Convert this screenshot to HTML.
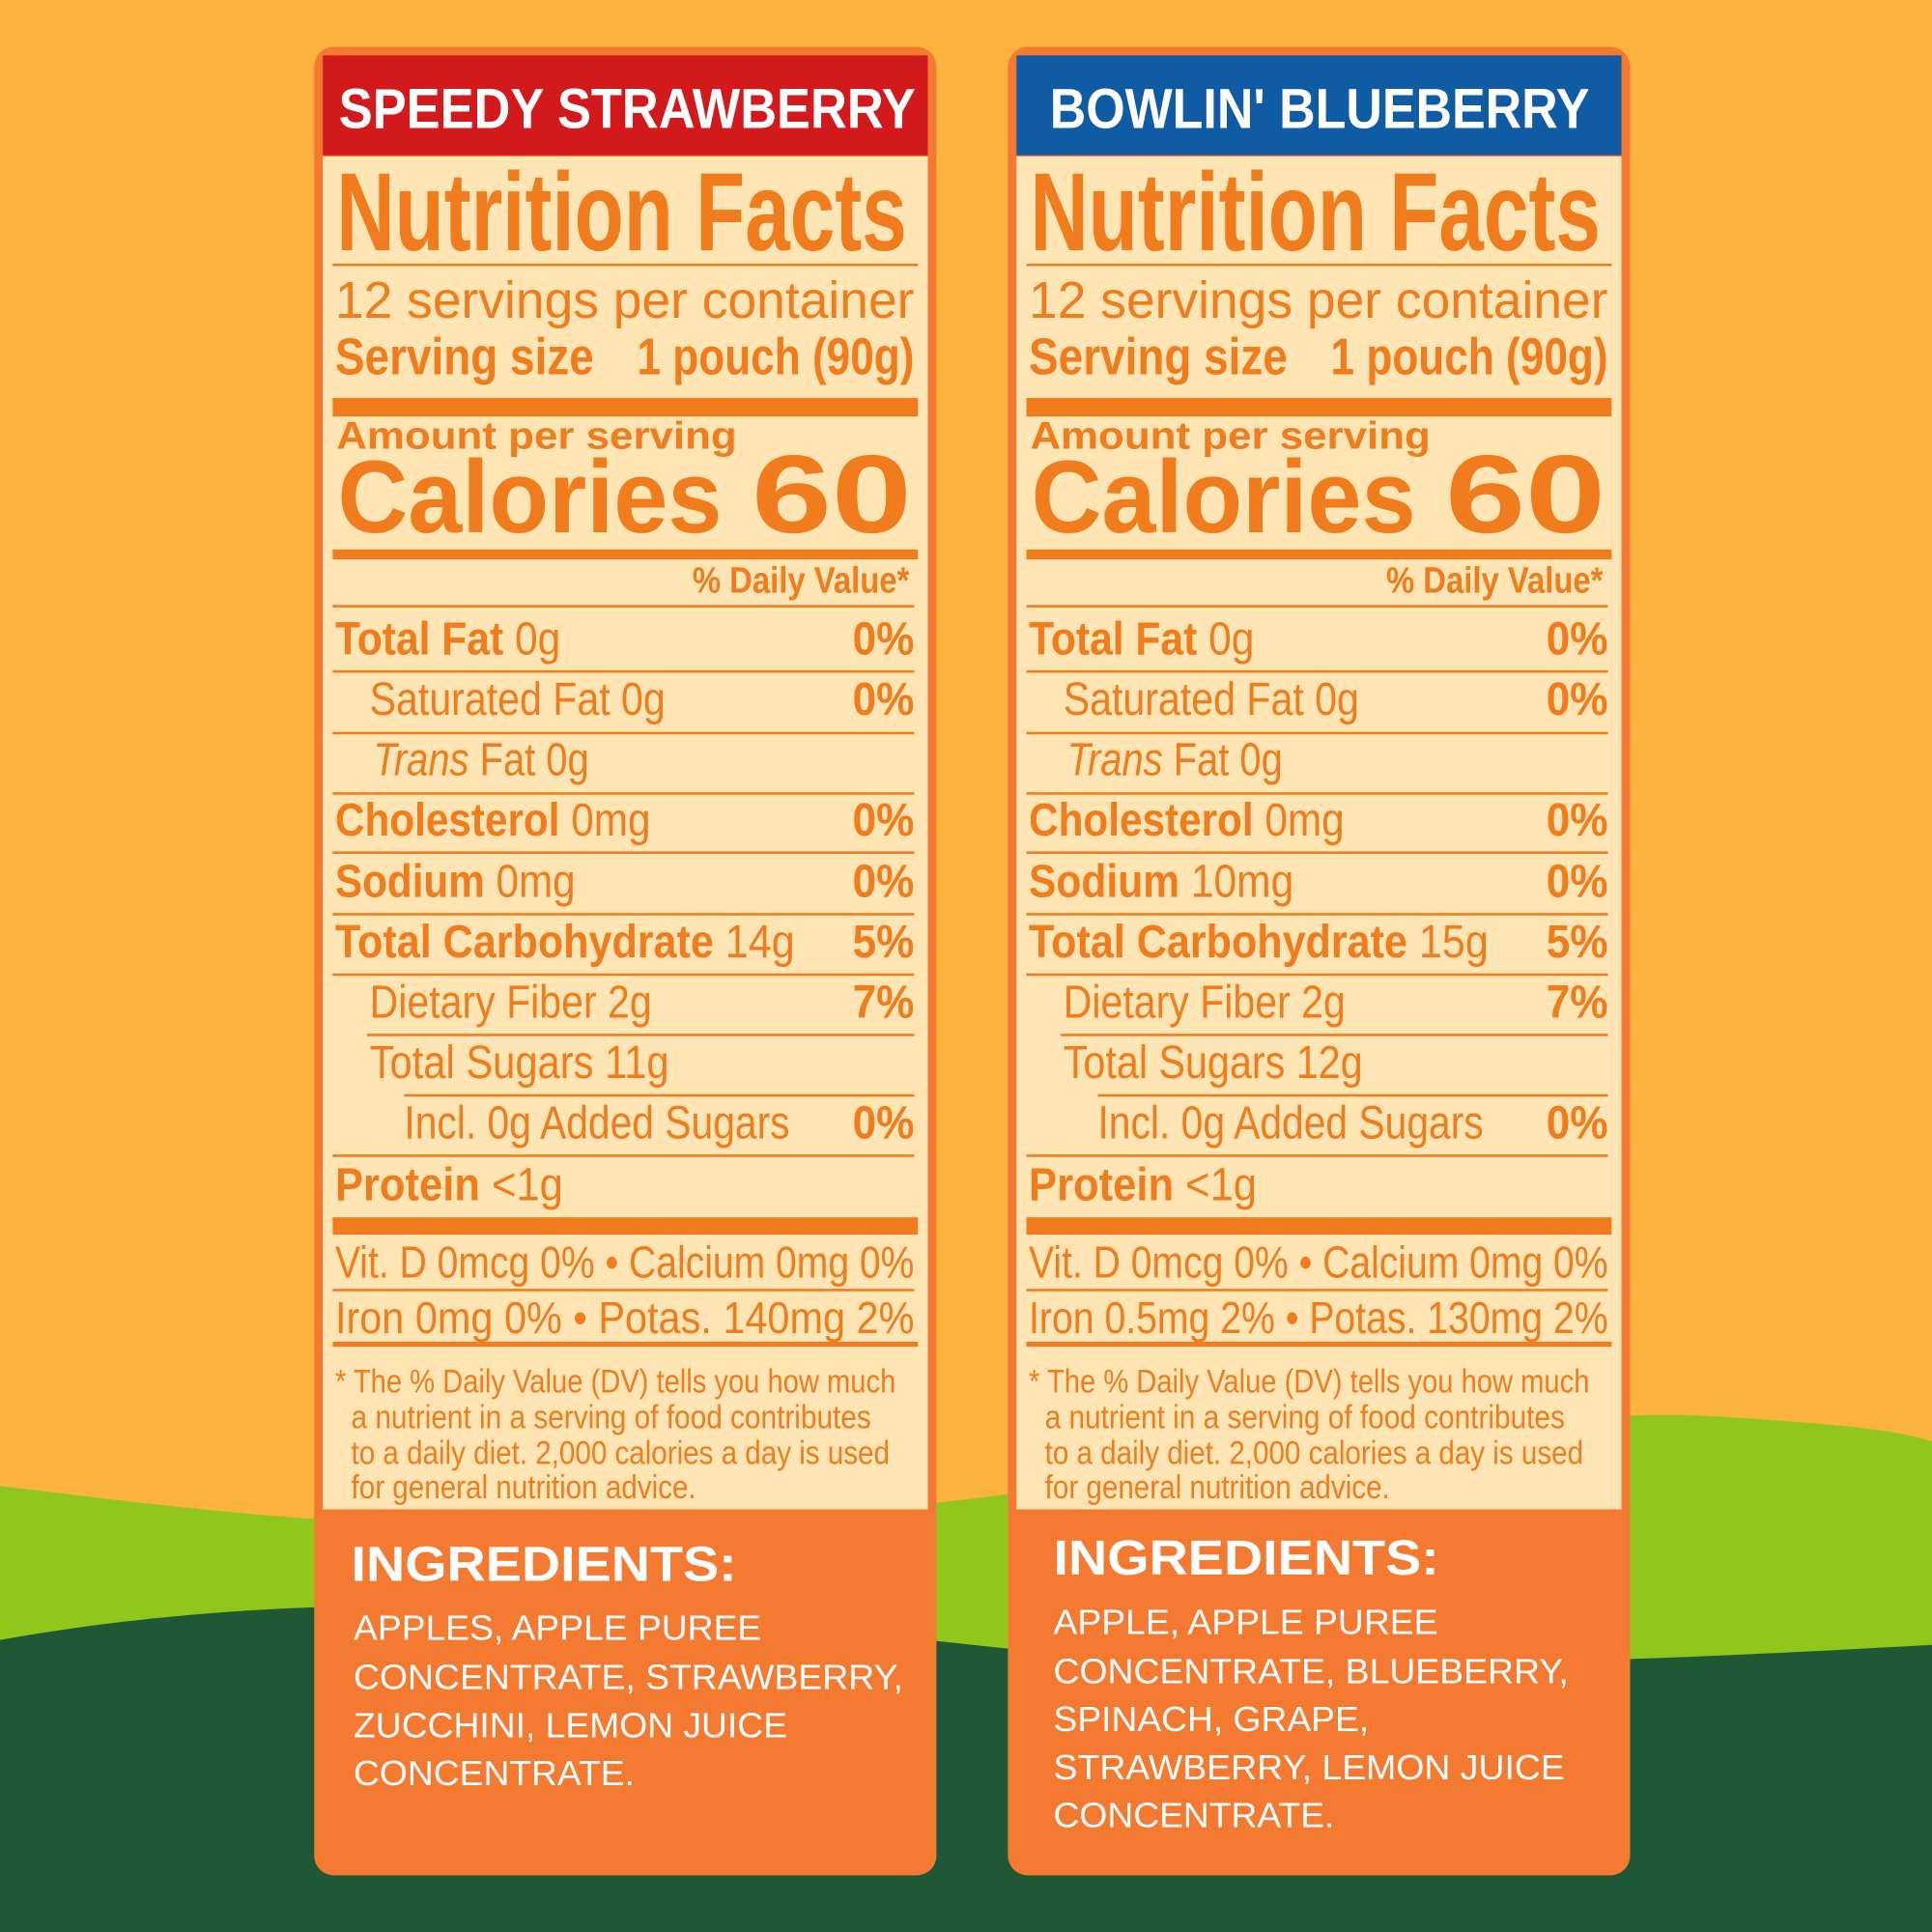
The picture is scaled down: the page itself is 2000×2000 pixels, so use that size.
<!DOCTYPE html>
<html><head><meta charset="utf-8"><style>
html,body{margin:0;padding:0;width:2000px;height:2000px;overflow:hidden;background:#FCB33E}
svg{display:block}
.n{font-family:"Liberation Sans Narrow","Liberation Sans",sans-serif}
.w{font-family:"Liberation Sans",sans-serif}
</style></head><body>
<svg width="2000" height="2000" viewBox="0 0 1568 1568" xmlns="http://www.w3.org/2000/svg">
<rect width="1568" height="1568" fill="#FCB33E"/>
<path d="M0,1206 C200,1230 420,1262 800,1215 C1050,1180 1250,1140 1400,1150 C1480,1155 1540,1160 1568,1170 L1568,1568 L0,1568 Z" fill="#91C71B"/>
<path d="M0,1331 C120,1310 250,1298 450,1305 C650,1315 760,1335 900,1345 C1100,1355 1300,1350 1568,1335 L1568,1568 L0,1568 Z" fill="#1F5834"/>

<g fill="#F07C1E">
<rect x="255" y="38" width="505" height="1484" rx="16" fill="#F47A32"/>
<rect x="262" y="45" width="491" height="81" fill="#D2191C"/>
<rect x="262" y="127" width="491" height="1098" fill="#FFE4B4"/>
<text x="275" y="104" class="w" font-size="46" font-weight="bold" fill="#fff" textLength="468" lengthAdjust="spacingAndGlyphs">SPEEDY STRAWBERRY</text>
<text x="273" y="203" class="n" font-size="90" font-weight="bold" textLength="463" lengthAdjust="spacingAndGlyphs">Nutrition Facts</text>
<rect x="270" y="214" width="475" height="2"/>
<text x="272" y="258" class="n" font-size="42" textLength="470" lengthAdjust="spacingAndGlyphs">12 servings per container</text>
<text x="272" y="304" class="n" font-size="42" font-weight="bold" textLength="210" lengthAdjust="spacingAndGlyphs">Serving size</text>
<text x="517" y="304" class="n" font-size="42" font-weight="bold" textLength="225" lengthAdjust="spacingAndGlyphs">1 pouch (90g)</text>
<rect x="270" y="323" width="475" height="15"/>
<text x="273" y="364" class="w" font-size="31" font-weight="bold" textLength="325" lengthAdjust="spacingAndGlyphs">Amount per serving</text>
<text x="274" y="432" class="w" font-size="84" font-weight="bold" textLength="312" lengthAdjust="spacingAndGlyphs">Calories</text>
<text x="610" y="432" class="w" font-size="90" font-weight="bold" textLength="130" lengthAdjust="spacingAndGlyphs">60</text>
<rect x="270" y="446" width="475" height="8"/>
<text x="562" y="481" class="n" font-size="30" font-weight="bold" textLength="176" lengthAdjust="spacingAndGlyphs">% Daily Value*</text>
<rect x="270" y="491" width="472" height="2"/>
<g class="n" font-size="38" lengthAdjust="spacingAndGlyphs">
<text x="272" y="531" textLength="183" lengthAdjust="spacingAndGlyphs"><tspan font-weight="bold">Total Fat</tspan> 0g</text>
<text x="692" y="531" textLength="50" lengthAdjust="spacingAndGlyphs" font-weight="bold">0%</text>
<rect x="270" y="544" width="472" height="2"/>
<text x="300" y="580" textLength="240" lengthAdjust="spacingAndGlyphs">Saturated Fat 0g</text>
<text x="692" y="580" textLength="50" lengthAdjust="spacingAndGlyphs" font-weight="bold">0%</text>
<rect x="270" y="594" width="472" height="2"/>
<text x="303" y="629" textLength="175" lengthAdjust="spacingAndGlyphs"><tspan font-style="italic">Trans</tspan> Fat 0g</text>
<rect x="270" y="643" width="472" height="2"/>
<text x="272" y="678" textLength="256" lengthAdjust="spacingAndGlyphs"><tspan font-weight="bold">Cholesterol</tspan> 0mg</text>
<text x="692" y="678" textLength="50" lengthAdjust="spacingAndGlyphs" font-weight="bold">0%</text>
<rect x="270" y="691" width="472" height="2"/>
<text x="272" y="728" textLength="195" lengthAdjust="spacingAndGlyphs"><tspan font-weight="bold">Sodium</tspan> 0mg</text>
<text x="692" y="728" textLength="50" lengthAdjust="spacingAndGlyphs" font-weight="bold">0%</text>
<rect x="270" y="741" width="472" height="2"/>
<text x="272" y="777" textLength="373" lengthAdjust="spacingAndGlyphs"><tspan font-weight="bold">Total Carbohydrate</tspan> 14g</text>
<text x="692" y="777" textLength="50" lengthAdjust="spacingAndGlyphs" font-weight="bold">5%</text>
<rect x="270" y="790" width="472" height="2"/>
<text x="300" y="826" textLength="229" lengthAdjust="spacingAndGlyphs">Dietary Fiber 2g</text>
<text x="692" y="826" textLength="50" lengthAdjust="spacingAndGlyphs" font-weight="bold">7%</text>
<rect x="298" y="839" width="444" height="2"/>
<text x="300" y="875" textLength="243" lengthAdjust="spacingAndGlyphs">Total Sugars 11g</text>
<rect x="328" y="888" width="414" height="2"/>
<text x="328" y="924" textLength="313" lengthAdjust="spacingAndGlyphs">Incl. 0g Added Sugars</text>
<text x="692" y="924" textLength="50" lengthAdjust="spacingAndGlyphs" font-weight="bold">0%</text>
<rect x="270" y="937" width="472" height="2"/>
<text x="272" y="974" textLength="185" lengthAdjust="spacingAndGlyphs"><tspan font-weight="bold">Protein</tspan> &lt;1g</text>
</g>
<rect x="270" y="988" width="475" height="14"/>
<text x="272" y="1037" class="n" font-size="36" textLength="470" lengthAdjust="spacingAndGlyphs">Vit. D 0mcg 0%  •  Calcium 0mg 0%</text>
<rect x="270" y="1046" width="472" height="2"/>
<text x="272" y="1082" class="n" font-size="36" textLength="470" lengthAdjust="spacingAndGlyphs">Iron 0mg 0%   •   Potas. 140mg 2%</text>
<rect x="270" y="1089" width="475" height="4"/>
<g class="n" font-size="27">
<text x="272" y="1130" textLength="455" lengthAdjust="spacingAndGlyphs">* The % Daily Value (DV) tells you how much</text>
<text x="285" y="1159" textLength="422" lengthAdjust="spacingAndGlyphs">a nutrient in a serving of food contributes</text>
<text x="285" y="1188" textLength="437" lengthAdjust="spacingAndGlyphs">to a daily diet. 2,000 calories a day is used</text>
<text x="285" y="1216" textLength="280" lengthAdjust="spacingAndGlyphs">for general nutrition advice.</text>
</g>
<g fill="#fff">
<text x="285" y="1283" class="w" font-size="40" font-weight="bold" textLength="313" lengthAdjust="spacingAndGlyphs">INGREDIENTS:</text>
<g class="w" font-size="28">
<text x="287" y="1331" textLength="331" lengthAdjust="spacingAndGlyphs">APPLES, APPLE PUREE</text>
<text x="287" y="1371" textLength="446" lengthAdjust="spacingAndGlyphs">CONCENTRATE, STRAWBERRY,</text>
<text x="287" y="1410" textLength="352" lengthAdjust="spacingAndGlyphs">ZUCCHINI, LEMON JUICE</text>
<text x="287" y="1449" textLength="228" lengthAdjust="spacingAndGlyphs">CONCENTRATE.</text>
</g></g>
</g>

<g transform="translate(563,0)" fill="#F07C1E">
<rect x="255" y="38" width="505" height="1484" rx="16" fill="#F47A32"/>
<rect x="262" y="45" width="491" height="81" fill="#0F5CA4"/>
<rect x="262" y="127" width="491" height="1098" fill="#FFE4B4"/>
<text x="289" y="104" class="w" font-size="46" font-weight="bold" fill="#fff" textLength="438" lengthAdjust="spacingAndGlyphs">BOWLIN' BLUEBERRY</text>
<text x="273" y="203" class="n" font-size="90" font-weight="bold" textLength="463" lengthAdjust="spacingAndGlyphs">Nutrition Facts</text>
<rect x="270" y="214" width="475" height="2"/>
<text x="272" y="258" class="n" font-size="42" textLength="470" lengthAdjust="spacingAndGlyphs">12 servings per container</text>
<text x="272" y="304" class="n" font-size="42" font-weight="bold" textLength="210" lengthAdjust="spacingAndGlyphs">Serving size</text>
<text x="517" y="304" class="n" font-size="42" font-weight="bold" textLength="225" lengthAdjust="spacingAndGlyphs">1 pouch (90g)</text>
<rect x="270" y="323" width="475" height="15"/>
<text x="273" y="364" class="w" font-size="31" font-weight="bold" textLength="325" lengthAdjust="spacingAndGlyphs">Amount per serving</text>
<text x="274" y="432" class="w" font-size="84" font-weight="bold" textLength="312" lengthAdjust="spacingAndGlyphs">Calories</text>
<text x="610" y="432" class="w" font-size="90" font-weight="bold" textLength="130" lengthAdjust="spacingAndGlyphs">60</text>
<rect x="270" y="446" width="475" height="8"/>
<text x="562" y="481" class="n" font-size="30" font-weight="bold" textLength="176" lengthAdjust="spacingAndGlyphs">% Daily Value*</text>
<rect x="270" y="491" width="472" height="2"/>
<g class="n" font-size="38">
<text x="272" y="531" textLength="183" lengthAdjust="spacingAndGlyphs"><tspan font-weight="bold">Total Fat</tspan> 0g</text>
<text x="692" y="531" textLength="50" lengthAdjust="spacingAndGlyphs" font-weight="bold">0%</text>
<rect x="270" y="544" width="472" height="2"/>
<text x="300" y="580" textLength="240" lengthAdjust="spacingAndGlyphs">Saturated Fat 0g</text>
<text x="692" y="580" textLength="50" lengthAdjust="spacingAndGlyphs" font-weight="bold">0%</text>
<rect x="270" y="594" width="472" height="2"/>
<text x="303" y="629" textLength="175" lengthAdjust="spacingAndGlyphs"><tspan font-style="italic">Trans</tspan> Fat 0g</text>
<rect x="270" y="643" width="472" height="2"/>
<text x="272" y="678" textLength="256" lengthAdjust="spacingAndGlyphs"><tspan font-weight="bold">Cholesterol</tspan> 0mg</text>
<text x="692" y="678" textLength="50" lengthAdjust="spacingAndGlyphs" font-weight="bold">0%</text>
<rect x="270" y="691" width="472" height="2"/>
<text x="272" y="728" textLength="215" lengthAdjust="spacingAndGlyphs"><tspan font-weight="bold">Sodium</tspan> 10mg</text>
<text x="692" y="728" textLength="50" lengthAdjust="spacingAndGlyphs" font-weight="bold">0%</text>
<rect x="270" y="741" width="472" height="2"/>
<text x="272" y="777" textLength="373" lengthAdjust="spacingAndGlyphs"><tspan font-weight="bold">Total Carbohydrate</tspan> 15g</text>
<text x="692" y="777" textLength="50" lengthAdjust="spacingAndGlyphs" font-weight="bold">5%</text>
<rect x="270" y="790" width="472" height="2"/>
<text x="300" y="826" textLength="229" lengthAdjust="spacingAndGlyphs">Dietary Fiber 2g</text>
<text x="692" y="826" textLength="50" lengthAdjust="spacingAndGlyphs" font-weight="bold">7%</text>
<rect x="298" y="839" width="444" height="2"/>
<text x="300" y="875" textLength="243" lengthAdjust="spacingAndGlyphs">Total Sugars 12g</text>
<rect x="328" y="888" width="414" height="2"/>
<text x="328" y="924" textLength="313" lengthAdjust="spacingAndGlyphs">Incl. 0g Added Sugars</text>
<text x="692" y="924" textLength="50" lengthAdjust="spacingAndGlyphs" font-weight="bold">0%</text>
<rect x="270" y="937" width="472" height="2"/>
<text x="272" y="974" textLength="185" lengthAdjust="spacingAndGlyphs"><tspan font-weight="bold">Protein</tspan> &lt;1g</text>
</g>
<rect x="270" y="988" width="475" height="14"/>
<text x="272" y="1037" class="n" font-size="36" textLength="470" lengthAdjust="spacingAndGlyphs">Vit. D 0mcg 0%  •  Calcium 0mg 0%</text>
<rect x="270" y="1046" width="472" height="2"/>
<text x="272" y="1082" class="n" font-size="36" textLength="470" lengthAdjust="spacingAndGlyphs">Iron 0.5mg 2%  •  Potas. 130mg 2%</text>
<rect x="270" y="1089" width="475" height="4"/>
<g class="n" font-size="27">
<text x="272" y="1130" textLength="455" lengthAdjust="spacingAndGlyphs">* The % Daily Value (DV) tells you how much</text>
<text x="285" y="1159" textLength="422" lengthAdjust="spacingAndGlyphs">a nutrient in a serving of food contributes</text>
<text x="285" y="1188" textLength="437" lengthAdjust="spacingAndGlyphs">to a daily diet. 2,000 calories a day is used</text>
<text x="285" y="1216" textLength="280" lengthAdjust="spacingAndGlyphs">for general nutrition advice.</text>
</g>
<g fill="#fff">
<text x="292" y="1278" class="w" font-size="40" font-weight="bold" textLength="313" lengthAdjust="spacingAndGlyphs">INGREDIENTS:</text>
<g class="w" font-size="28">
<text x="292" y="1326" textLength="312" lengthAdjust="spacingAndGlyphs">APPLE, APPLE PUREE</text>
<text x="292" y="1366" textLength="418" lengthAdjust="spacingAndGlyphs">CONCENTRATE, BLUEBERRY,</text>
<text x="292" y="1405" textLength="256" lengthAdjust="spacingAndGlyphs">SPINACH, GRAPE,</text>
<text x="292" y="1444" textLength="415" lengthAdjust="spacingAndGlyphs">STRAWBERRY, LEMON JUICE</text>
<text x="292" y="1483" textLength="228" lengthAdjust="spacingAndGlyphs">CONCENTRATE.</text>
</g></g>
</g>
</svg>
</body></html>
